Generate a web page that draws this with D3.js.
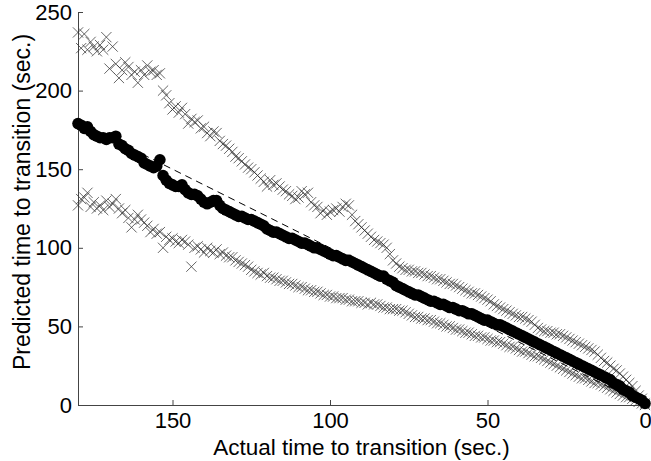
<!DOCTYPE html>
<html>
<head>
<meta charset="utf-8">
<script src="https://cdn.jsdelivr.net/npm/d3@7"></script>
<style>
  body { margin: 0; background: #fff; }
  text { font-family: "Liberation Sans", Arial, sans-serif; fill: #000; }
</style>
</head>
<body>
<script>
// data: one sample per second, actual time 180 -> 0
var times = d3.range(180, -1, -1);

// mean prediction (filled circles)
var meanValues = [
  179, 178, 176, 177, 174, 172, 171, 170, 170, 169, 170,
  170, 171, 166, 165, 163, 162, 160, 159, 158, 157,
  154, 153, 152, 151, 152, 156, 146, 143, 141, 140,
  139, 139, 140, 137, 135, 134, 134, 133, 131, 129,
  128, 129, 130, 130, 127, 125, 124, 123, 122, 121,
  120, 120, 119, 118, 118, 117, 116, 115, 114, 112,
  111, 110, 110, 109, 108, 107, 106, 106, 105, 104,
  103, 103, 102, 101, 100, 100, 99, 98, 97, 96,
  95, 95, 94, 93, 92, 92, 91, 90, 89, 88,
  87, 86, 85, 84, 83, 82, 82, 80, 79, 78,
  76, 75, 74, 73, 72, 71, 70, 70, 69, 68,
  67, 66, 66, 65, 64, 64, 63, 62, 62, 61,
  60, 60, 59, 58, 58, 57, 56, 55, 54, 54,
  53, 52, 51, 51, 50, 49, 48, 47, 46, 45,
  44, 43, 42, 41, 40, 39, 38, 37, 36, 35,
  34, 33, 32, 31, 30, 29, 28, 27, 26, 25,
  24, 23, 22, 21, 20, 19, 18, 17, 16, 14,
  13, 12, 10, 9, 8, 6, 5, 4, 3, 1
];

// upper bound (x markers)
var upperValues = [
  237, 227, 236, 226, 231, 228, 225, 229, 226, 234, 214,
  228, 217, 208, 213, 218, 215, 210, 212, 205, 213,
  210, 216, 212, 213, 210, 211, 200, 197, 192, 188,
  190, 186, 189, 185, 179, 182, 180, 181, 176, 177,
  173, 171, 174, 173, 168, 166, 165, 163, 161, 158,
  157, 155, 153, 151, 150, 148, 146, 144, 142, 139,
  143, 140, 141, 139, 137, 136, 134, 133, 131, 132,
  136, 134, 135, 129, 127, 126, 122, 124, 121, 123,
  124, 125, 123, 126, 128, 127, 121, 117, 115, 113,
  111, 109, 107, 105, 104, 103, 102, 100, 96, 92,
  90, 88, 87, 86, 86, 85, 85, 84, 84, 83,
  82, 82, 81, 80, 80, 79, 78, 77, 77, 76,
  75, 74, 73, 72, 71, 71, 70, 69, 68, 67,
  66, 64, 63, 62, 61, 60, 59, 58, 57, 56,
  56, 55, 54, 53, 51, 49, 48, 47, 47, 46,
  46, 45, 45, 44, 43, 42, 41, 40, 39, 38,
  37, 36, 35, 34, 32, 30, 28, 27, 25, 23,
  22, 20, 18, 16, 14, 12, 9, 6, 4, 1
];

// lower bound (x markers)
var lowerValues = [
  127, 131, 132, 135, 126, 129, 125, 127, 124, 130, 126,
  128, 131, 125, 122, 124, 119, 113, 118, 121, 118,
  116, 114, 110, 112, 109, 110, 100, 107, 105, 106,
  104, 103, 105, 104, 102, 88, 100, 101, 99, 97,
  100, 98, 97, 99, 96, 97, 95, 94, 94, 92,
  91, 90, 89, 88, 86, 85, 84, 83, 84, 82,
  81, 81, 80, 79, 79, 78, 77, 77, 76, 75,
  75, 74, 73, 73, 72, 72, 71, 70, 70, 69,
  69, 68, 68, 68, 67, 67, 66, 66, 66, 65,
  65, 64, 65, 64, 64, 63, 62, 62, 61, 61,
  61, 60, 60, 59, 58, 57, 56, 56, 55, 55,
  54, 54, 53, 52, 52, 51, 50, 50, 49, 48,
  48, 47, 46, 46, 45, 44, 44, 43, 43, 42,
  41, 41, 40, 40, 39, 38, 37, 37, 36, 35,
  34, 34, 33, 32, 31, 31, 30, 29, 28, 27,
  26, 25, 24, 23, 22, 21, 20, 19, 18, 17,
  17, 16, 15, 14, 14, 13, 12, 11, 10, 9,
  8, 7, 6, 5, 5, 4, 3, 2, 1, 0
];

var xTicks = [150, 100, 50, 0];
var yTicks = [0, 50, 100, 150, 200, 250];
var xLabel = "Actual time to transition (sec.)";
var yLabel = "Predicted time to transition (sec.)";

// svg container
var width = 651;
var height = 461;

var margin = { top: 12, right: 6, bottom: 56, left: 78 };
var chartWidth = width - margin.left - margin.right;
var chartHeight = height - margin.top - margin.bottom;

var svg = d3.select("body").append("svg")
    .attr("width", width)
    .attr("height", height);

var chartGroup = svg.append("g")
    .attr("transform", `translate(${margin.left}, ${margin.top})`);

// x runs backwards, 180 on the left
var xScale = d3.scaleLinear()
    .domain([180, 0])
    .range([0, chartWidth]);

var yScale = d3.scaleLinear()
    .domain([0, 250])
    .range([chartHeight, 0]);

// axes, ticks pointing inward
var xAxis = d3.axisBottom(xScale)
    .tickValues(xTicks)
    .tickSizeInner(-5)
    .tickSizeOuter(0)
    .tickPadding(7);

var yAxis = d3.axisLeft(yScale)
    .tickValues(yTicks)
    .tickSizeInner(-5)
    .tickSizeOuter(0)
    .tickPadding(6);

var xAxisGroup = chartGroup.append("g")
    .attr("transform", `translate(0, ${chartHeight})`)
    .call(xAxis);

var yAxisGroup = chartGroup.append("g")
    .call(yAxis);

[xAxisGroup, yAxisGroup].forEach(g => {
  g.selectAll("path, line").attr("stroke", "#444").attr("stroke-width", 1);
  g.selectAll("text")
      .style("font-family", "'Liberation Sans', Arial, sans-serif")
      .style("font-size", "22px")
      .attr("fill", "#000");
});

// markers
var cross = d3.symbol().type(d3.symbolX).size(70);

var bounds = [upperValues, lowerValues];
bounds.forEach(values => {
  chartGroup.append("g").selectAll("path")
      .data(values)
      .enter()
      .append("path")
      .attr("d", cross)
      .attr("transform", (d, i) => `translate(${xScale(times[i])}, ${yScale(d)})`)
      .attr("fill", "none")
      .attr("stroke", "#333")
      .attr("stroke-width", 0.75);
});

chartGroup.append("g").selectAll("circle")
    .data(meanValues)
    .enter()
    .append("circle")
    .attr("cx", (d, i) => xScale(times[i]))
    .attr("cy", d => yScale(d))
    .attr("r", 5.8)
    .attr("fill", "#000");

// ideal prediction, dashed diagonal
chartGroup.append("line")
    .attr("x1", xScale(180))
    .attr("y1", yScale(180))
    .attr("x2", xScale(0))
    .attr("y2", yScale(0))
    .attr("stroke", "#000")
    .attr("stroke-width", 1)
    .attr("stroke-dasharray", "7,5");

// axis titles
svg.append("text")
    .attr("x", margin.left + chartWidth / 2)
    .attr("y", 455)
    .attr("text-anchor", "middle")
    .style("font-size", "22.5px")
    .text(xLabel);

svg.append("text")
    .attr("transform", "translate(30, 202) rotate(-90)")
    .attr("text-anchor", "middle")
    .style("font-size", "23px")
    .text(yLabel);
</script>
</body>
</html>
